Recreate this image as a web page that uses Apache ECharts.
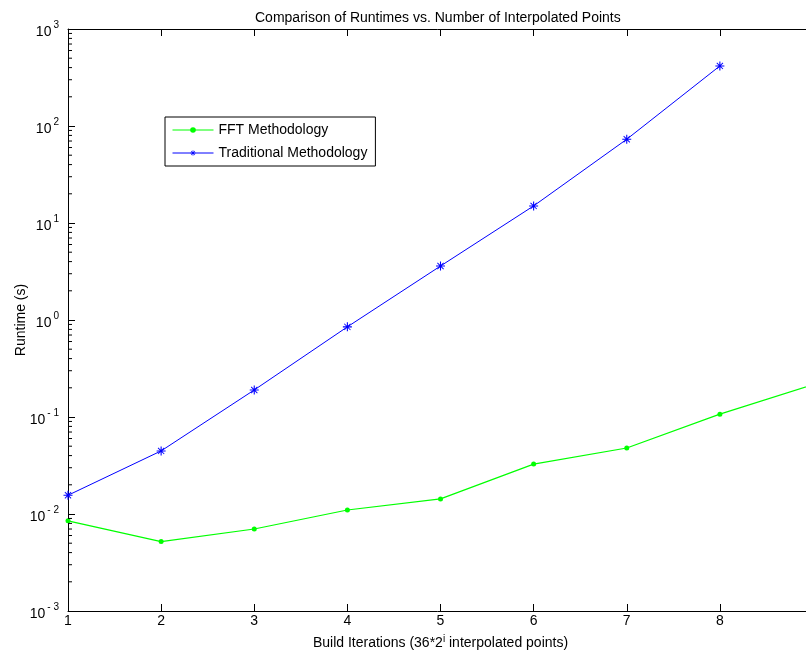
<!DOCTYPE html>
<html>
<head>
<meta charset="utf-8">
<script src="https://cdn.jsdelivr.net/npm/echarts@6/dist/echarts.min.js"></script>
<style>
html,body{margin:0;padding:0;background:#fff;}
#chart{width:806px;height:655px;}
</style>
</head>
<body>
<div id="chart"></div>
<script>
// ---- data ----
var iterations = [1, 2, 3, 4, 5, 6, 7, 8, 9];
var fftRuntime = [0.0085, 0.0052, 0.0070, 0.0110, 0.0143, 0.0327, 0.0479, 0.107, 0.215];
var traditionalIterations = [1, 2, 3, 4, 5, 6, 7, 8];
var traditionalRuntime = [0.0156, 0.0447, 0.19, 0.85, 3.6, 15, 73, 416];
var xTicks = [1, 2, 3, 4, 5, 6, 7, 8];
var yDecades = [-3, -2, -1, 0, 1, 2, 3];
var seriesNames = ['FFT Methodology', 'Traditional Methodology'];

// minor tick values (2..9 x 10^k) along the log axis
var minorVals = [];
for (var k = -3; k < 3; k++) {
  for (var m = 2; m <= 9; m++) minorVals.push(m * Math.pow(10, k));
}

var FONT = '"Liberation Sans", Arial, Helvetica, sans-serif';
var FS = 14;
var asterisk = 'path://M4.4 0 L5.6 0 L5.6 10 L4.4 10 Z M0 4.4 L10 4.4 L10 5.6 L0 5.6 Z M1.2 1.9 L1.9 1.2 L8.8 8.1 L8.1 8.8 Z M8.1 1.2 L8.8 1.9 L1.9 8.8 L1.2 8.1 Z';

var chart = echarts.init(document.getElementById('chart'), null, {renderer: 'canvas'});

var axisLine = {show: true, onZero: false, lineStyle: {color: '#000', width: 1}};

chart.setOption({
  animation: false,
  backgroundColor: '#fff',
  textStyle: {fontFamily: FONT},
  title: {
    text: 'Comparison of Runtimes vs. Number of Interpolated Points',
    left: 250, top: 6,
    textStyle: {fontFamily: FONT, fontSize: FS, fontWeight: 'normal', color: '#000'}
  },
  legend: {
    data: seriesNames,
    orient: 'vertical',
    left: 165, top: 117,
    padding: [5, 8, 5, 7],
    itemWidth: 41, itemHeight: 7, itemGap: 7,
    borderColor: '#000', borderWidth: 1,
    backgroundColor: '#fff',
    lineStyle: {width: 1},
    textStyle: {fontFamily: FONT, fontSize: FS, color: '#000', lineHeight: 16}
  },
  grid: {left: 68, top: 29, width: 745, height: 582, containLabel: false, outerBoundsMode: 'none'},
  xAxis: [{
    type: 'value', min: 1, max: 9, interval: 1,
    position: 'bottom',
    axisLine: axisLine,
    axisTick: {show: true, inside: true, length: 7, lineStyle: {color: '#000'}},
    axisLabel: {
      fontFamily: FONT, fontSize: FS, color: '#000', margin: 3,
      formatter: function (v) { return xTicks.indexOf(v) >= 0 ? String(v) : ''; }
    },
    splitLine: {show: false},
    name: 'Build Iterations (36*2{sup|i} interpolated points)',
    nameLocation: 'middle', nameGap: 23,
    nameTextStyle: {fontFamily: FONT, fontSize: FS, color: '#000',
      rich: {sup: {fontFamily: FONT, fontSize: 10, color: '#000', padding: [0, 0, 8, 0]}}}
  }, {
    type: 'value', min: 1, max: 9, interval: 1,
    position: 'top',
    axisLine: axisLine,
    axisTick: {show: true, inside: true, length: 7, lineStyle: {color: '#000'}},
    axisLabel: {show: false},
    splitLine: {show: false}
  }],
  yAxis: [{
    type: 'log', logBase: 10, min: 0.001, max: 1000,
    position: 'left',
    axisLine: axisLine,
    axisTick: {show: true, inside: true, length: 7, lineStyle: {color: '#000'}},
    axisLabel: {
      margin: 9,
      formatter: function (v) {
        var e = Math.round(Math.log(v) / Math.LN10);
        if (yDecades.indexOf(e) < 0) return '';
        return '{b|10}{e|' + (e < 0 ? '- ' + (-e) : e) + '}';
      },
      rich: {
        b: {fontFamily: FONT, fontSize: FS, color: '#000', padding: [6, 0, 0, 0]},
        e: {fontFamily: FONT, fontSize: 10, color: '#000', padding: [0, 0, 8, 2]}
      }
    },
    splitLine: {show: false},
    name: 'Runtime (s)',
    nameLocation: 'middle', nameGap: 40, nameRotate: 90,
    nameMoveOverlap: false,
    nameTextStyle: {fontFamily: FONT, fontSize: FS, color: '#000'}
  }, {
    type: 'log', logBase: 10, min: 0.001, max: 1000,
    position: 'right',
    axisLine: axisLine,
    axisTick: {show: true, inside: true, length: 7, lineStyle: {color: '#000'}},
    axisLabel: {show: false},
    splitLine: {show: false}
  }],
  series: [{
    name: seriesNames[0],
    type: 'line',
    data: iterations.map(function (x, i) { return [x, fftRuntime[i]]; }),
    symbol: 'circle', symbolSize: 5,
    lineStyle: {color: '#00ff00', width: 1.2},
    itemStyle: {color: '#00ff00'},
    z: 3
  }, {
    name: seriesNames[1],
    type: 'line',
    data: traditionalIterations.map(function (x, i) { return [x, traditionalRuntime[i]]; }),
    symbol: asterisk, symbolSize: 9,
    lineStyle: {color: '#0000ff', width: 1},
    itemStyle: {color: '#0000ff'},
    z: 3
  }, {
    name: 'minorTicks',
    type: 'custom',
    silent: true,
    clip: false,
    data: minorVals.map(function (v) { return [v]; }),
    renderItem: function (params, api) {
      var v = api.value(0);
      var pl = api.coord([1, v]);
      var pr = api.coord([9, v]);
      return {
        type: 'group',
        children: [{
          type: 'line',
          shape: {x1: pl[0], y1: pl[1], x2: pl[0] + 4, y2: pl[1]},
          style: {stroke: '#000', lineWidth: 1}
        }, {
          type: 'line',
          shape: {x1: pr[0], y1: pr[1], x2: pr[0] - 4, y2: pr[1]},
          style: {stroke: '#000', lineWidth: 1}
        }]
      };
    },
    z: 4
  }]
});
</script>
</body>
</html>
